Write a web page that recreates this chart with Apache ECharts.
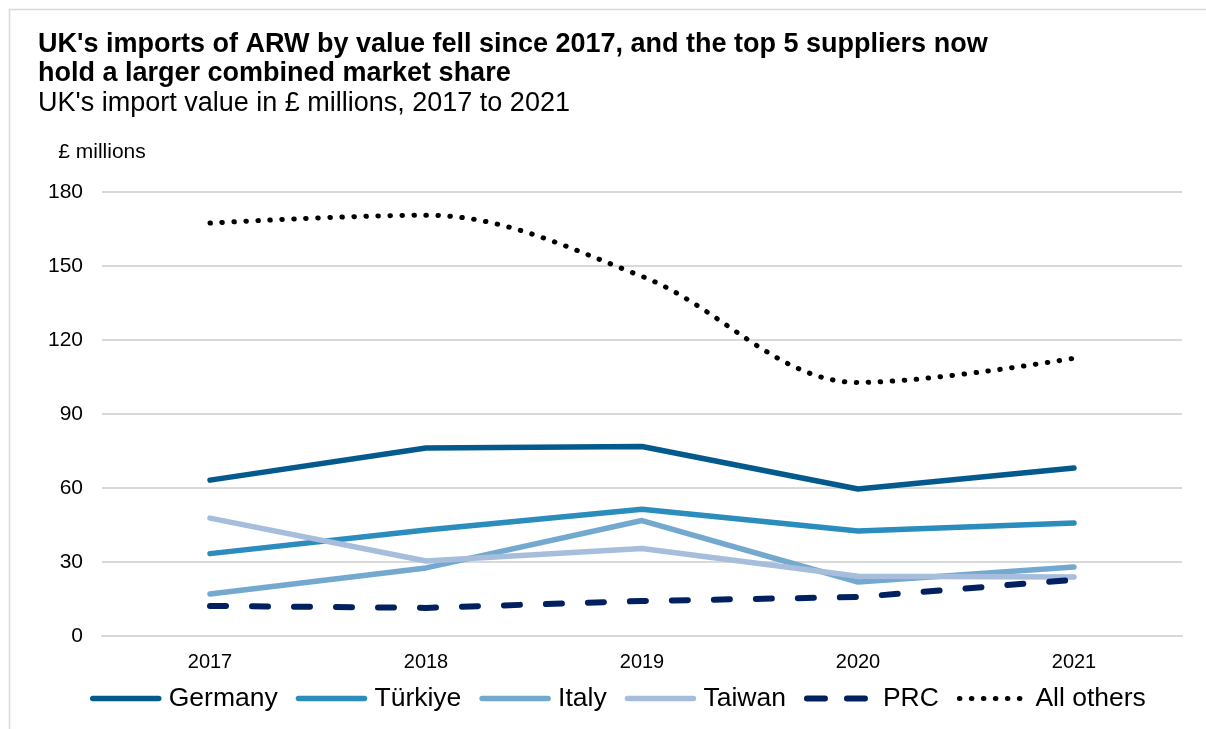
<!DOCTYPE html>
<html>
<head>
<meta charset="utf-8">
<title>UK imports of ARW</title>
<script src="https://cdn.jsdelivr.net/npm/echarts@6/dist/echarts.min.js"></script>
<style>
  html, body { margin: 0; padding: 0; background: #ffffff; }
  #chart { width: 1206px; height: 729px; }
</style>
</head>
<body>
<div id="chart"></div>
<script>
// Years on the category axis
const years = ['2017', '2018', '2019', '2020', '2021'];

// UK import value by supplier, £ millions
const germany   = [63.2, 76.2, 76.8, 59.6, 68.1];
const turkiye   = [33.4, 43.0, 51.4, 42.6, 45.8];
const italy     = [17.0, 27.6, 46.8, 21.9, 28.0];
const taiwan    = [47.8, 30.4, 35.5, 24.2, 23.9];
const prc       = [12.2, 11.4, 14.2, 15.8, 22.8];
const allOthers = [167.4, 170.6, 145.8, 102.8, 112.6];

// Value axis ticks
const yTicks = [0, 30, 60, 90, 120, 150, 180];

const FONT = '"Liberation Sans", Arial, sans-serif';

const COLORS = {
  germany: '#045a8d',
  turkiye: '#2b8cbe',
  italy: '#74a9cf',
  taiwan: '#a6bddb',
  prc: '#002060',
  others: '#000000'
};
const DASH = [16, 26];
const DOTS = [0.5, 11.5];

function lineSeries(name, data, color, extra) {
  return Object.assign({
    name: name,
    type: 'line',
    data: data,
    symbol: 'none',
    showSymbol: false,
    lineStyle: { color: color, width: 5.5, cap: 'round', join: 'round' },
    itemStyle: { color: color },
    emphasis: { disabled: true }
  }, extra || {});
}

function legendItem(name, color, width, type) {
  return {
    name: name,
    itemStyle: { opacity: 0 },
    lineStyle: { color: color, width: width, cap: 'round', type: type || 'solid' }
  };
}

const chart = echarts.init(document.getElementById('chart'), null, { renderer: 'canvas' });

chart.setOption({
  backgroundColor: '#ffffff',
  animation: false,
  textStyle: { fontFamily: FONT },
  graphic: [{
    type: 'rect',
    shape: { x: 9.5, y: 9.5, width: 1230, height: 760 },
    style: { fill: 'none', stroke: '#d9d9d9', lineWidth: 1.5 },
    silent: true
  }],
  title: {
    left: 38,
    top: 30,
    padding: 0,
    itemGap: 1,
    text: "UK's imports of ARW by value fell since 2017, and the top 5 suppliers now\nhold a larger combined market share",
    subtext: "UK's import value in £ millions, 2017 to 2021",
    textStyle: { fontFamily: FONT, fontSize: 27, fontWeight: 'bold', color: '#000000', lineHeight: 29 },
    subtextStyle: { fontFamily: FONT, fontSize: 27, color: '#000000', lineHeight: 30 }
  },
  grid: { left: 102, right: 24, top: 192, bottom: 93, containLabel: false },
  xAxis: {
    type: 'category',
    data: years,
    boundaryGap: true,
    axisLine: { show: true, lineStyle: { color: '#d9d9d9', width: 2 } },
    axisTick: { show: false },
    axisLabel: { fontFamily: FONT, fontSize: 20, color: '#000000', margin: 16 }
  },
  yAxis: {
    type: 'value',
    min: yTicks[0],
    max: yTicks[yTicks.length - 1],
    interval: yTicks[1] - yTicks[0],
    name: '£ millions',
    nameLocation: 'end',
    nameGap: 40,
    nameTextStyle: { fontFamily: FONT, fontSize: 21, color: '#000000', align: 'center', verticalAlign: 'middle' },
    axisLine: { show: false },
    axisTick: { show: false },
    axisLabel: { fontFamily: FONT, fontSize: 21, color: '#000000', margin: 19 },
    splitLine: { lineStyle: { color: '#d9d9d9', width: 2 } }
  },
  legend: {
    left: 90,
    top: 685,
    padding: 0,
    itemWidth: 66,
    itemHeight: 26,
    itemGap: 18,
    selectedMode: false,
    itemStyle: { opacity: 0 },
    textStyle: { fontFamily: FONT, fontSize: 26.5, color: '#000000', padding: [0, 0, 0, 5] },
    data: [
      legendItem('Germany', COLORS.germany, 5.5),
      legendItem('Türkiye', COLORS.turkiye, 5.5),
      legendItem('Italy', COLORS.italy, 5.5),
      legendItem('Taiwan', COLORS.taiwan, 5.5),
      legendItem('PRC', COLORS.prc, 6, [18, 22]),
      legendItem('All others', COLORS.others, 5, DOTS)
    ]
  },
  series: [
    lineSeries('Germany', germany, COLORS.germany),
    lineSeries('Türkiye', turkiye, COLORS.turkiye),
    lineSeries('Italy', italy, COLORS.italy),
    lineSeries('Taiwan', taiwan, COLORS.taiwan),
    lineSeries('PRC', prc, COLORS.prc, {
      lineStyle: { color: COLORS.prc, width: 6, cap: 'round', type: DASH }
    }),
    lineSeries('All others', allOthers, COLORS.others, {
      smooth: 0.35,
      lineStyle: { color: COLORS.others, width: 5, cap: 'round', type: DOTS }
    })
  ]
});
</script>
</body>
</html>
